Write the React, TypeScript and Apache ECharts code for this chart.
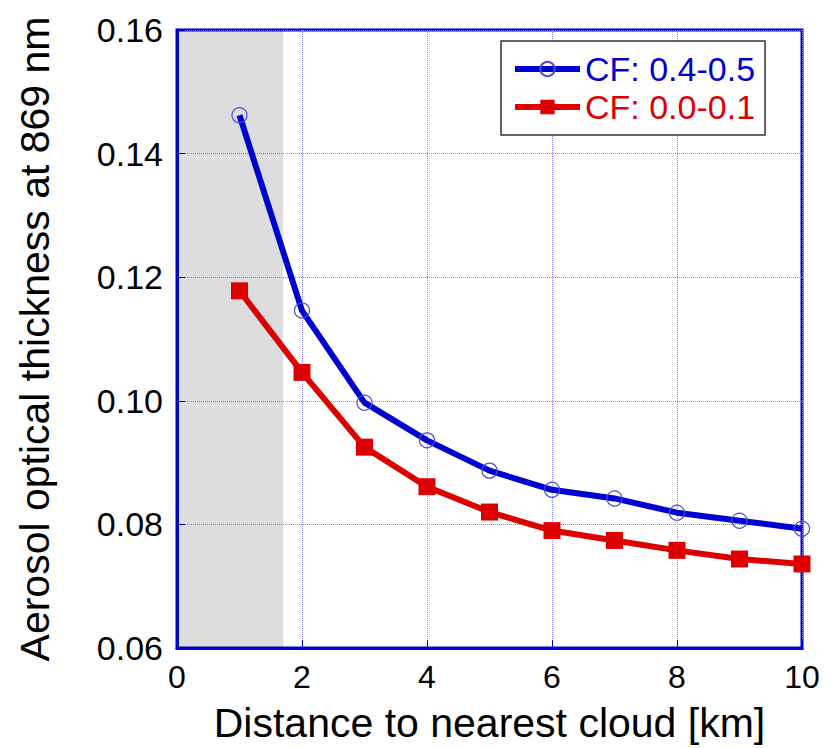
import React, { useEffect, useRef } from "react";
import * as echarts from "echarts";

const distances = [1, 2, 3, 4, 5, 6, 7, 8, 9, 10];
const cfHighLabel = "CF: 0.4-0.5";
const cfLowLabel = "CF: 0.0-0.1";
const cfHigh = [0.1462, 0.1146, 0.0997, 0.0936, 0.0887, 0.0856, 0.0842, 0.0819, 0.0806, 0.0793];
const cfLow = [0.1178, 0.1046, 0.0925, 0.0861, 0.082, 0.079, 0.0774, 0.0758, 0.0744, 0.0736];
const shadedRange = [0, 1.7];
const xTicks = [0, 2, 4, 6, 8, 10];
const yTicks = [0.06, 0.08, 0.1, 0.12, 0.14, 0.16];

const FONT = "'Liberation Sans', Arial, Helvetica, sans-serif";
const BLUE = "#0000d0";
const RED = "#dd0000";
const GRIDC = "#8a8aff";

export default function App() {
  const ref = useRef<HTMLDivElement>(null);
  useEffect(() => {
    if (!ref.current) return;
    const chart = echarts.init(ref.current, null, { renderer: "svg" });
    chart.setOption({
      animation: false,
      backgroundColor: "#ffffff",
      textStyle: { fontFamily: FONT },
      grid: {
        left: 177,
        top: 30,
        right: 34,
        bottom: 95,
        show: true,
        borderColor: BLUE,
        borderWidth: 3,
        backgroundColor: "#ffffff",
      },
      legend: {
        orient: "vertical",
        left: 501,
        top: 41,
        padding: [11, 10, 11, 11],
        itemWidth: 65,
        itemHeight: 18,
        itemGap: 4,
        itemTextGap: 5,
        backgroundColor: "#ffffff",
        borderColor: "#333333",
        borderWidth: 1.5,
        lineStyle: { width: 6 },
        textStyle: { fontSize: 34, fontFamily: FONT, lineHeight: 34 },
        data: [
          { name: cfHighLabel, textStyle: { color: BLUE } },
          { name: cfLowLabel, textStyle: { color: RED } },
        ],
      },
      xAxis: {
        type: "value",
        min: xTicks[0],
        max: xTicks[xTicks.length - 1],
        interval: 2,
        name: "Distance to nearest cloud [km]",
        nameLocation: "middle",
        nameGap: 54,
        nameTextStyle: { fontSize: 41, color: "#000", fontFamily: FONT },
        axisLine: { show: true, lineStyle: { color: BLUE, width: 3 } },
        axisTick: { show: true, inside: true, length: 8, lineStyle: { color: BLUE, width: 1 } },
        axisLabel: { fontSize: 32, color: "#000", margin: 13, fontFamily: FONT },
        splitLine: { show: true, lineStyle: { color: GRIDC, width: 1, type: "dotted" } },
      },
      yAxis: {
        type: "value",
        min: yTicks[0],
        max: yTicks[yTicks.length - 1],
        interval: 0.02,
        name: "Aerosol optical thickness at 869 nm",
        nameLocation: "middle",
        nameGap: 122,
        nameRotate: 90,
        nameTextStyle: { fontSize: 41, color: "#000", fontFamily: FONT },
        axisLine: { show: true, lineStyle: { color: BLUE, width: 3 } },
        axisTick: { show: true, inside: true, length: 8, lineStyle: { color: BLUE, width: 1 } },
        axisLabel: {
          fontSize: 34,
          color: "#000",
          margin: 14,
          fontFamily: FONT,
          formatter: (v: number) => v.toFixed(2),
        },
        splitLine: { show: true, lineStyle: { color: GRIDC, width: 1, type: "dotted" } },
      },
      series: [
        {
          name: "shade",
          type: "line",
          data: [],
          silent: true,
          z: 1,
          markArea: {
            silent: true,
            itemStyle: { color: "rgba(0,0,0,0.135)" },
            data: [[{ xAxis: shadedRange[0] }, { xAxis: shadedRange[1] }]],
          },
        },
        {
          name: cfHighLabel,
          type: "line",
          z: 4,
          data: distances.map((d, i) => [d, cfHigh[i]]),
          lineStyle: { color: BLUE, width: 6 },
          symbol: "circle",
          symbolSize: 15,
          itemStyle: { color: "rgba(0,0,0,0)", borderColor: "#4a4ae0", borderWidth: 1.2 },
        },
        {
          name: cfLowLabel,
          type: "line",
          z: 3,
          data: distances.map((d, i) => [d, cfLow[i]]),
          lineStyle: { color: RED, width: 6 },
          symbol: "rect",
          symbolSize: 17,
          itemStyle: { color: RED },
        },
      ],
    });
    return () => chart.dispose();
  }, []);
  return (
    <div
      ref={ref}
      style={{ position: "fixed", left: 0, top: 0, width: 836, height: 748 }}
    />
  );
}
